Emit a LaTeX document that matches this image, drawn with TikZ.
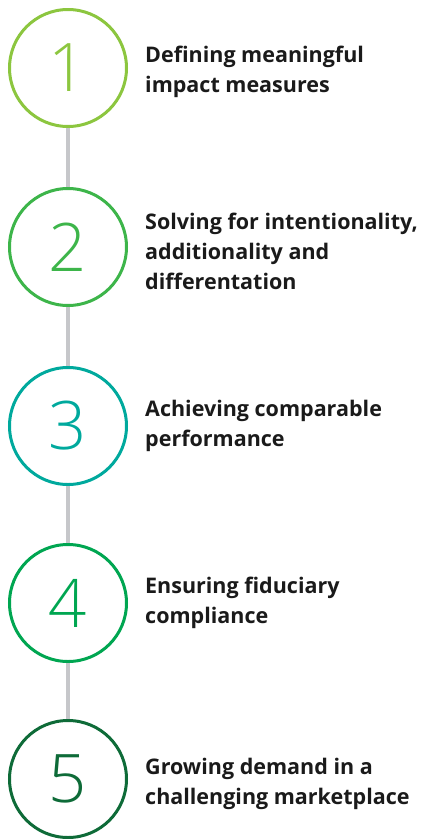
\documentclass[tikz,border=0pt]{standalone}
\usepackage{fontspec}
\setmainfont{Open Sans}
\newfontfamily\numfont{Open Sans Light}
\newfontfamily\lblfont{Open Sans}
\definecolor{cone}{HTML}{8CC63F}
\definecolor{ctwo}{HTML}{3DB54A}
\definecolor{cthree}{HTML}{00A99D}
\definecolor{cfour}{HTML}{00A651}
\definecolor{cfive}{HTML}{0E6B38}
\definecolor{linkgray}{HTML}{C6C7CA}
\definecolor{txt}{HTML}{1A1A1A}
\begin{document}
\begin{tikzpicture}[x=1pt,y=-1pt,
  stepcircle/.style={circle, draw, line width=3pt, minimum size=117pt, inner sep=0pt, font=\numfont\fontsize{67}{67}\selectfont},
  steplabel/.style={anchor=west, align=left, inner sep=0pt, text=txt, font=\lblfont\bfseries\fontsize{21.5}{30}\selectfont},
  link/.style={draw=linkgray, line width=4pt}]
\useasboundingbox (0,0) rectangle (422,839);
\node[stepcircle, draw=cone, text=cone] (c1) at (68,68) {1};
\node[stepcircle, draw=ctwo, text=ctwo] (c2) at (68,247) {2};
\node[stepcircle, draw=cthree, text=cthree] (c3) at (68,426) {3};
\node[stepcircle, draw=cfour, text=cfour] (c4) at (68,603) {4};
\node[stepcircle, draw=cfive, text=cfive] (c5) at (68,779) {5};
\draw[link] (c1.south) -- (c2.north);
\draw[link] (c2.south) -- (c3.north);
\draw[link] (c3.south) -- (c4.north);
\draw[link] (c4.south) -- (c5.north);
\node[steplabel] (t1) at (145,72) {Defining meaningful\\impact measures};
\node[steplabel] (t2) at (145,251) {Solving for intentionality,\\additionality and\\differentation};
\node[steplabel] (t3) at (145,426) {Achieving comparable\\performance};
\node[steplabel] (t4) at (145,603) {Ensuring fiduciary\\compliance};
\node[steplabel] (t5) at (145,784) {Growing demand in a\\challenging marketplace};
\end{tikzpicture}
\end{document}
